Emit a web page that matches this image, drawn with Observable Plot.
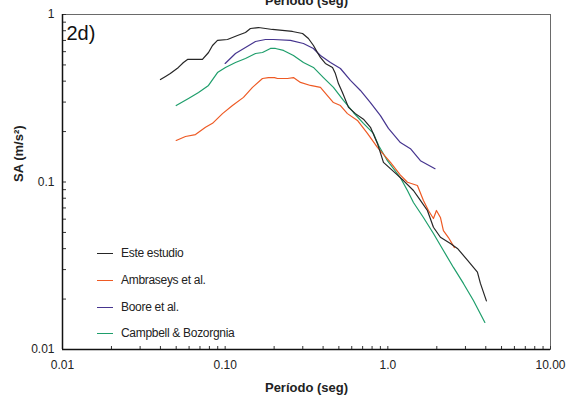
<!DOCTYPE html>
<html>
<head>
<meta charset="utf-8">
<script src="https://cdn.jsdelivr.net/npm/d3@7"></script>
<script src="https://cdn.jsdelivr.net/npm/@observablehq/plot@0.6"></script>
<style>
  html, body { margin: 0; padding: 0; background: #fff; }
  #chart { position: relative; width: 576px; height: 403px; }
  #legend { position: absolute; left: 97px; top: 0; font: 12px "Liberation Sans", Arial, sans-serif; color: #222; letter-spacing: -0.3px; }
  #legend .row { position: absolute; left: 0; display: flex; align-items: center; white-space: nowrap; height: 14px; }
  #legend .sw { width: 16px; height: 0; border-top: 1.5px solid; margin-right: 8px; }
</style>
</head>
<body>
<div id="chart"><div id="legend"></div></div>
<script>
// Axis domains and tick labels
const xDomain = [0.01, 10];
const yDomain = [0.01, 1];
const xTickValues = [0.01, 0.1, 1, 10];
const xTickLabels = ["0.01", "0.10", "1.0", "10.00"];
const yTickValues = [0.01, 0.1, 1];
const yTickLabels = ["0.01", "0.1", "1"];

// Series names and colours
const seriesNames = ["Este estudio", "Ambraseys et al.", "Boore et al.", "Campbell & Bozorgnia"];
const seriesColors = ["#262626", "#ee5a24", "#46358f", "#1e9e6b"];

// Este estudio: period (s) and spectral acceleration (m/s²)
const periodEste = [0.040, 0.043, 0.046, 0.0516, 0.0554, 0.0587, 0.0725, 0.079, 0.0836, 0.0897,
  0.1033, 0.119, 0.1333, 0.143, 0.160, 0.177, 0.195, 0.259, 0.299, 0.325,
  0.349, 0.369, 0.385, 0.413, 0.457, 0.476, 0.497, 0.526, 0.573, 0.632,
  0.708, 0.782, 0.863, 0.940, 1.113, 1.247, 1.437, 1.586, 1.751, 1.907,
  2.105, 2.425, 2.678, 3.085, 3.554, 3.708, 4.036];
const saEste = [0.409, 0.427, 0.444, 0.483, 0.517, 0.539, 0.539, 0.593, 0.653, 0.700,
  0.709, 0.749, 0.781, 0.825, 0.836, 0.825, 0.814, 0.792, 0.770, 0.719,
  0.653, 0.593, 0.554, 0.510, 0.483, 0.444, 0.387, 0.342, 0.279, 0.256,
  0.237, 0.212, 0.170, 0.131, 0.113, 0.102, 0.0890, 0.0776, 0.0676, 0.0537,
  0.0468, 0.0429, 0.0401, 0.0342, 0.0290, 0.0248, 0.0195];

// Ambraseys et al.
const periodAmbraseys = [0.050, 0.057, 0.0657, 0.0757, 0.0836, 0.0963, 0.1109, 0.1296, 0.1472, 0.1696,
  0.1846, 0.201, 0.2096, 0.2415, 0.2629, 0.2903, 0.3344, 0.3852, 0.4253, 0.463,
  0.5112, 0.5645, 0.6503, 0.7491, 0.863, 1.038, 1.195, 1.320, 1.520, 1.655,
  1.776, 1.907, 1.990, 2.105, 2.196, 2.358, 2.567];
const saAmbraseys = [0.177, 0.187, 0.192, 0.212, 0.224, 0.256, 0.286, 0.320, 0.367, 0.415,
  0.420, 0.420, 0.415, 0.415, 0.420, 0.393, 0.377, 0.367, 0.328, 0.298,
  0.286, 0.256, 0.233, 0.195, 0.161, 0.131, 0.110, 0.0997, 0.0953, 0.0776,
  0.0676, 0.0605, 0.0676, 0.0614, 0.0513, 0.0466, 0.0406];

// Boore et al.
const periodBoore = [0.100, 0.1157, 0.1333, 0.1536, 0.1769, 0.1981, 0.252, 0.3029, 0.3488, 0.3852,
  0.4438, 0.5112, 0.589, 0.6785, 0.7816, 0.9006, 1.0085, 1.195, 1.377, 1.586, 1.95];
const saBoore = [0.510, 0.585, 0.635, 0.690, 0.709, 0.709, 0.700, 0.671, 0.627, 0.569,
  0.517, 0.476, 0.404, 0.352, 0.298, 0.249, 0.209, 0.172, 0.158, 0.134, 0.120];

// Campbell & Bozorgnia
const periodCampbell = [0.050, 0.0595, 0.0686, 0.079, 0.0897, 0.1004, 0.1157, 0.1333, 0.1536, 0.1696,
  0.1898, 0.2038, 0.2283, 0.2629, 0.3029, 0.3488, 0.4019, 0.463, 0.5334, 0.6145,
  0.7079, 0.8155, 0.8754, 0.9943, 1.195, 1.320, 1.437, 1.655, 1.907, 2.196,
  2.531, 2.915, 3.359, 3.95];
const saCampbell = [0.286, 0.315, 0.342, 0.377, 0.450, 0.483, 0.517, 0.546, 0.585, 0.593,
  0.627, 0.627, 0.610, 0.569, 0.517, 0.483, 0.420, 0.367, 0.307, 0.260,
  0.224, 0.195, 0.1656, 0.134, 0.106, 0.0890, 0.0754, 0.0614, 0.0493, 0.0390,
  0.0309, 0.0248, 0.0196, 0.0145];

const seriesPeriods = [periodEste, periodAmbraseys, periodBoore, periodCampbell];
const seriesSA = [saEste, saAmbraseys, saBoore, saCampbell];

// Long-format table for the line mark
const rows = seriesNames.flatMap((name, s) =>
  seriesPeriods[s].map((t, i) => ({series: name, T: t, SA: seriesSA[s][i]})));

// Minor tick positions (1..9 × each decade)
const decadeTicks = (lo, hi) => {
  const out = [];
  for (let e = Math.log10(lo); e < Math.log10(hi); e++)
    for (let m = 1; m <= 9; m++) out.push(m * Math.pow(10, e));
  out.push(hi);
  return out;
};
const xMinor = decadeTicks(xDomain[0], xDomain[1]);
const yMinor = decadeTicks(yDomain[0], yDomain[1]);

const xLabelMap = new Map(xTickValues.map((v, i) => [v, xTickLabels[i]]));
const yLabelMap = new Map(yTickValues.map((v, i) => [v, yTickLabels[i]]));

const drawOrder = [3, 2, 1, 0];

const chart = Plot.plot({
  width: 576,
  height: 403,
  marginLeft: 62,
  marginRight: 26,
  marginTop: 14,
  marginBottom: 54,
  style: {fontFamily: '"Liberation Sans", Arial, sans-serif', fontSize: "12px", color: "#222", background: "#fff"},
  x: {type: "log", domain: xDomain},
  y: {type: "log", domain: yDomain},
  color: {domain: seriesNames, range: seriesColors},
  marks: [
    Plot.frame({stroke: "#6a6a6a", strokeWidth: 1}),
    // inward minor ticks
    Plot.axisX({ticks: xMinor, tickSize: -3, tickFormat: () => "", label: null, stroke: "#333"}),
    Plot.axisY({ticks: yMinor, tickSize: -4, tickFormat: () => "", label: null, stroke: "#333"}),
    // tick labels
    Plot.axisX({ticks: xTickValues, tickSize: 0, tickPadding: 11, tickFormat: d => xLabelMap.get(d), label: null, fontSize: 12}),
    Plot.axisY({ticks: yTickValues, tickSize: 0, tickPadding: 8, tickFormat: d => yLabelMap.get(d), label: null, fontSize: 12}),
    // left and bottom axis lines
    Plot.ruleX([xDomain[0]], {stroke: "#111", strokeWidth: 1.5}),
    Plot.ruleY([yDomain[0]], {stroke: "#111", strokeWidth: 1.5}),
    ...drawOrder.map(s => Plot.line(rows.filter(r => r.series === seriesNames[s]), {
      x: "T", y: "SA", stroke: seriesColors[s], strokeWidth: 1.2
    })),
    // titles
    Plot.text(["Período (seg)"], {frameAnchor: "bottom", dy: 38.5, lineAnchor: "middle", fontWeight: "bold", fontSize: 13, fill: "#222"}),
    Plot.text(["Período (seg)"], {frameAnchor: "top", dy: -14, lineAnchor: "middle", fontWeight: "bold", fontSize: 13, fill: "#222"}),
    Plot.text(["SA (m/s²)"], {frameAnchor: "left", dx: -44, rotate: -90, fontWeight: "bold", fontSize: 13, fill: "#222"}),
    Plot.text(["2d)"], {frameAnchor: "top-left", dx: 4, dy: 19, lineAnchor: "middle", textAnchor: "start", fontSize: 20, fill: "#111"})
  ]
});

const holder = document.getElementById("chart");
holder.insertBefore(chart, holder.firstChild);

// Legend drawn over the plot area
const legendTops = [253, 280, 307, 333];
const legend = document.getElementById("legend");
seriesNames.forEach((name, i) => {
  const row = document.createElement("div");
  row.className = "row";
  row.style.top = (legendTops[i] - 7) + "px";
  const sw = document.createElement("span");
  sw.className = "sw";
  sw.style.borderColor = seriesColors[i];
  const label = document.createElement("span");
  label.textContent = name;
  row.appendChild(sw);
  row.appendChild(label);
  legend.appendChild(row);
});
</script>
</body>
</html>
